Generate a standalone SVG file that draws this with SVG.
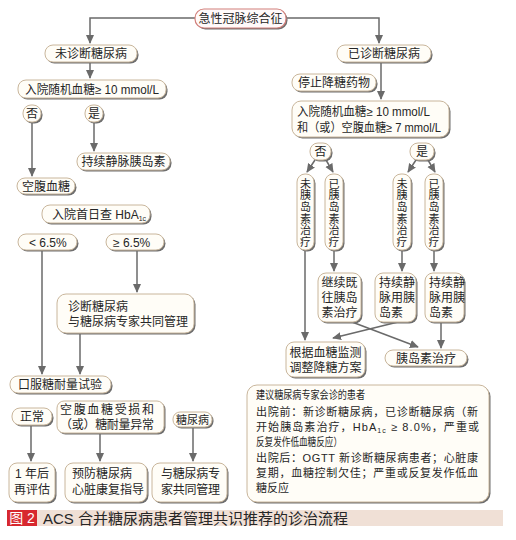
<svg xmlns="http://www.w3.org/2000/svg" width="516" height="540" viewBox="0 0 516 540">
<defs>
<marker id="ah" viewBox="0 0 10 10" refX="9" refY="5" markerWidth="9" markerHeight="9" markerUnits="userSpaceOnUse" orient="auto"><path d="M0,0.5 L10,5 L0,9.5 z" fill="#6a6a6a"/></marker>
<style>
text{font-family:"Liberation Sans","Noto Sans CJK SC",sans-serif;font-size:12px;fill:#262626}
.c{text-anchor:middle}
.sm{font-size:11px}
.vt{font-size:11px;text-anchor:middle}
.sh{fill:#6e6e6e}
.bx{fill:#fffdf7;stroke:#c9b69c;stroke-width:1}
.tp{fill:#fffafa;stroke:#d27f7a;stroke-width:1.2}
.ln{fill:none;stroke:#6a6a6a;stroke-width:1.5;marker-end:url(#ah)}
.sub{font-size:7px}
</style>
</defs>
<rect width="516" height="540" fill="#ffffff"/>

<g id="connectors">
<path class="ln" d="M195,18 H90 V43"/>
<path class="ln" d="M286,18 H379 V43"/>
<path class="ln" d="M90,62 V78"/>
<path class="ln" d="M32,122 V176"/>
<path class="ln" d="M94,122 V151"/>
<path class="ln" d="M42,250 V374"/>
<path class="ln" d="M137,250 V292"/>
<path class="ln" d="M80,333 V374"/>
<path class="ln" d="M31,425 V461"/>
<path class="ln" d="M100,433 V461"/>
<path class="ln" d="M193,427 V461"/>
<path class="ln" d="M381,62 V99"/>
<path class="ln" d="M315,160 L307,172"/>
<path class="ln" d="M326,160 L333,172"/>
<path class="ln" d="M416,160 L408,172"/>
<path class="ln" d="M428,160 L435,172"/>
<path class="ln" d="M305,250 V340"/>
<path class="ln" d="M334,250 V271"/>
<path class="ln" d="M402,250 V271"/>
<path class="ln" d="M434,250 V271"/>
<path class="ln" d="M441,322 V348"/>
<path class="ln" d="M352,322 L418,347"/>
<path class="ln" d="M398,322 L333,338"/>
</g>

<g id="n_acs"><rect class="sh" x="196.5" y="10.5" width="91" height="19" rx="9"/><rect class="tp" x="195" y="9" width="91" height="19" rx="9"/><text class="c" x="240.5" y="22.5">急性冠脉综合征</text></g>

<g id="n_undiag"><rect class="sh" x="46.5" y="46.5" width="92" height="17" rx="8"/><rect class="bx" x="45" y="45" width="92" height="17" rx="8"/><text class="c" x="91" y="58">未诊断糖尿病</text></g>

<g id="n_rbg1"><rect class="sh" x="19.5" y="81.5" width="148" height="18" rx="8"/><rect class="bx" x="18" y="80" width="148" height="18" rx="8"/><text x="25" y="93.5" textLength="134" lengthAdjust="spacingAndGlyphs">入院随机血糖≥ 10 mmol/L</text></g>

<g id="n_no1"><rect class="sh" x="24.5" y="106.5" width="18" height="17" rx="8"/><rect class="bx" x="23" y="105" width="18" height="17" rx="8"/><text class="c" x="32" y="118">否</text></g>
<g id="n_yes1"><rect class="sh" x="86.5" y="106.5" width="18" height="17" rx="8"/><rect class="bx" x="85" y="105" width="18" height="17" rx="8"/><text class="c" x="94" y="118">是</text></g>

<g id="n_iv1"><rect class="sh" x="78.5" y="154.5" width="93" height="17" rx="8"/><rect class="bx" x="77" y="153" width="93" height="17" rx="8"/><text class="c" x="123.5" y="166">持续静脉胰岛素</text></g>

<g id="n_fpg"><rect class="sh" x="18.5" y="179.5" width="58" height="16" rx="8"/><rect class="bx" x="17" y="178" width="58" height="16" rx="8"/><text class="c" x="46" y="190.5">空腹血糖</text></g>

<g id="n_hba1c"><rect class="sh" x="43.5" y="206.5" width="108" height="18" rx="8"/><rect class="bx" x="42" y="205" width="108" height="18" rx="8"/><text x="52" y="218.5">入院首日查 HbA<tspan class="sub" dy="2">1c</tspan></text></g>

<g id="n_lt65"><rect class="sh" x="19.5" y="235.5" width="59" height="16" rx="8"/><rect class="bx" x="18" y="234" width="59" height="16" rx="8"/><text x="29" y="246.5">&lt;  6.5%</text></g>
<g id="n_ge65"><rect class="sh" x="107.5" y="235.5" width="58" height="16" rx="8"/><rect class="bx" x="106" y="234" width="58" height="16" rx="8"/><text x="113" y="246.5">≥ 6.5%</text></g>

<g id="n_diag"><rect class="sh" x="58.5" y="295.5" width="137" height="39" rx="9"/><rect class="bx" x="57" y="294" width="137" height="39" rx="9"/><text x="68" y="311">诊断糖尿病</text><text x="68" y="326">与糖尿病专家共同管理</text></g>

<g id="n_ogtt"><rect class="sh" x="11.5" y="377.5" width="101" height="17" rx="8"/><rect class="bx" x="10" y="376" width="101" height="17" rx="8"/><text class="c" x="60" y="389">口服糖耐量试验</text></g>

<g id="n_normal"><rect class="sh" x="13.5" y="409.5" width="40" height="17" rx="8"/><rect class="bx" x="12" y="408" width="40" height="17" rx="8"/><text class="c" x="32" y="421">正常</text></g>

<g id="n_ifg"><rect class="sh" x="58.5" y="402.5" width="107" height="32" rx="7"/><rect class="bx" x="57" y="401" width="107" height="32" rx="7"/><text x="60" y="413.5" textLength="94">空腹血糖受损和</text><text x="60" y="429" textLength="94">（或）糖耐量异常</text></g>

<g id="n_dm"><rect class="sh" x="174.5" y="413.5" width="39" height="15" rx="7"/><rect class="bx" x="173" y="412" width="39" height="15" rx="7"/><text class="c sm" x="192.5" y="424">糖尿病</text></g>

<g id="n_1yr"><rect class="sh" x="10.5" y="464.5" width="46" height="39" rx="8"/><rect class="bx" x="9" y="463" width="46" height="39" rx="8"/><text class="c" x="32" y="478">1 年后</text><text class="c" x="32" y="494">再评估</text></g>

<g id="n_prev"><rect class="sh" x="66.5" y="464.5" width="82" height="39" rx="8"/><rect class="bx" x="65" y="463" width="82" height="39" rx="8"/><text x="72" y="478">预防糖尿病</text><text x="72" y="494">心脏康复指导</text></g>

<g id="n_colab"><rect class="sh" x="153.5" y="464.5" width="75" height="39" rx="8"/><rect class="bx" x="152" y="463" width="75" height="39" rx="8"/><text x="161" y="478" textLength="59">与糖尿病专</text><text x="161" y="494" textLength="59">家共同管理</text></g>

<g id="n_diagdm"><rect class="sh" x="338.5" y="46.5" width="94" height="17" rx="8"/><rect class="bx" x="337" y="45" width="94" height="17" rx="8"/><text class="c" x="384" y="58">已诊断糖尿病</text></g>

<g id="n_stop"><rect class="sh" x="293.5" y="75.5" width="84" height="17" rx="8"/><rect class="bx" x="292" y="74" width="84" height="17" rx="8"/><text class="c" x="334" y="87">停止降糖药物</text></g>

<g id="n_rbg2"><rect class="sh" x="293.5" y="102.5" width="157" height="36" rx="9"/><rect class="bx" x="292" y="101" width="157" height="36" rx="9"/><text x="297" y="116" textLength="133" lengthAdjust="spacingAndGlyphs">入院随机血糖≥ 10 mmol/L</text><text x="297" y="132" textLength="144" lengthAdjust="spacingAndGlyphs">和（或）空腹血糖≥ 7 mmol/L</text></g>

<g id="n_no2"><rect class="sh" x="311.5" y="144.5" width="21" height="17" rx="8"/><rect class="bx" x="310" y="143" width="21" height="17" rx="8"/><text class="c" x="320.5" y="156">否</text></g>
<g id="n_yes2"><rect class="sh" x="411.5" y="144.5" width="24" height="17" rx="8"/><rect class="bx" x="410" y="143" width="24" height="17" rx="8"/><text class="c" x="422" y="156">是</text></g>

<g id="n_v1"><rect class="sh" x="298.5" y="175.5" width="17" height="76" rx="8"/><rect class="bx" x="297" y="174" width="17" height="76" rx="8"/>
<text class="vt" x="305.5" y="187.5">未</text><text class="vt" x="305.5" y="199.2">胰</text><text class="vt" x="305.5" y="210.9">岛</text><text class="vt" x="305.5" y="222.6">素</text><text class="vt" x="305.5" y="234.3">治</text><text class="vt" x="305.5" y="246">疗</text></g>
<g id="n_v2"><rect class="sh" x="326.5" y="175.5" width="18" height="76" rx="8"/><rect class="bx" x="325" y="174" width="18" height="76" rx="8"/>
<text class="vt" x="334" y="187.5">已</text><text class="vt" x="334" y="199.2">胰</text><text class="vt" x="334" y="210.9">岛</text><text class="vt" x="334" y="222.6">素</text><text class="vt" x="334" y="234.3">治</text><text class="vt" x="334" y="246">疗</text></g>
<g id="n_v3"><rect class="sh" x="394.5" y="175.5" width="18" height="76" rx="8"/><rect class="bx" x="393" y="174" width="18" height="76" rx="8"/>
<text class="vt" x="402" y="187.5">未</text><text class="vt" x="402" y="199.2">胰</text><text class="vt" x="402" y="210.9">岛</text><text class="vt" x="402" y="222.6">素</text><text class="vt" x="402" y="234.3">治</text><text class="vt" x="402" y="246">疗</text></g>
<g id="n_v4"><rect class="sh" x="426.5" y="175.5" width="18" height="76" rx="8"/><rect class="bx" x="425" y="174" width="18" height="76" rx="8"/>
<text class="vt" x="434" y="187.5">已</text><text class="vt" x="434" y="199.2">胰</text><text class="vt" x="434" y="210.9">岛</text><text class="vt" x="434" y="222.6">素</text><text class="vt" x="434" y="234.3">治</text><text class="vt" x="434" y="246">疗</text></g>

<g id="n_cont"><rect class="sh" x="319.5" y="274.5" width="43" height="49" rx="8"/><rect class="bx" x="318" y="273" width="43" height="49" rx="8"/><text class="c" x="339.5" y="287">继续既</text><text class="c" x="339.5" y="302">往胰岛</text><text class="c" x="339.5" y="317">素治疗</text></g>

<g id="n_iv2"><rect class="sh" x="376.5" y="274.5" width="41" height="49" rx="8"/><rect class="bx" x="375" y="273" width="41" height="49" rx="8"/><text x="379" y="287">持续静</text><text x="379" y="302">脉用胰</text><text x="379" y="317">岛素</text></g>

<g id="n_iv3"><rect class="sh" x="426.5" y="274.5" width="39" height="49" rx="8"/><rect class="bx" x="425" y="273" width="39" height="49" rx="8"/><text x="429" y="287">持续静</text><text x="429" y="302">脉用胰</text><text x="429" y="317">岛素</text></g>

<g id="n_adjust"><rect class="sh" x="287.5" y="343.5" width="79" height="35" rx="8"/><rect class="bx" x="286" y="342" width="79" height="35" rx="8"/><text class="c" x="325.5" y="356.5">根据血糖监测</text><text class="c" x="325.5" y="372">调整降糖方案</text></g>

<g id="n_ins"><rect class="sh" x="386.5" y="351.5" width="82" height="16" rx="8"/><rect class="bx" x="385" y="350" width="82" height="16" rx="8"/><text class="c" x="426" y="362.5">胰岛素治疗</text></g>

<g id="n_consult"><rect class="sh" x="248.5" y="386.5" width="242" height="117" rx="10"/><rect class="bx" x="247" y="385" width="242" height="117" rx="10"/>
<text class="sm" x="256" y="399" textLength="109" lengthAdjust="spacingAndGlyphs">建议糖尿病专家会诊的患者</text>
<text class="sm" x="256" y="415.5" textLength="222">出院前：新诊断糖尿病，已诊断糖尿病（新</text>
<text class="sm" x="256" y="431" textLength="223">开始胰岛素治疗，HbA<tspan class="sub" dy="2">1c</tspan><tspan dy="-2"> ≥ 8.0%，严重或</tspan></text>
<text class="sm" x="256" y="446" textLength="86" lengthAdjust="spacingAndGlyphs">反复发作低血糖反应）</text>
<text class="sm" x="256" y="461.5" textLength="222">出院后：OGTT 新诊断糖尿病患者；心脏康</text>
<text class="sm" x="256" y="477" textLength="222">复期，血糖控制欠佳；严重或反复发作低血</text>
<text class="sm" x="256" y="492">糖反应</text></g>

<g id="caption">
<rect x="37" y="510" width="466" height="16" fill="#f0e0d6"/>
<rect x="7" y="510" width="30" height="16" fill="#d7282f"/>
<text class="c" x="22" y="523" style="font-size:14px;fill:#ffffff">图 2</text>
<text x="43" y="523.5" style="font-size:15px">ACS 合并糖尿病患者管理共识推荐的诊治流程</text>
</g>
</svg>
